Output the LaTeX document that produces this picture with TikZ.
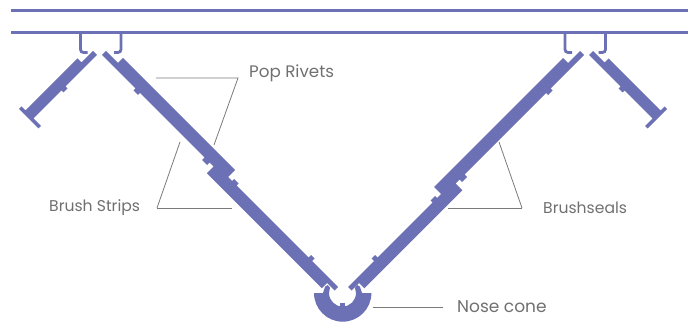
\documentclass[tikz,border=0pt]{standalone}
\usepackage{fontspec}
\setmainfont{Poppins}
\definecolor{sealblue}{HTML}{6C70B5}
\definecolor{leadgrey}{HTML}{7A7A7A}
\definecolor{textgrey}{HTML}{707070}
\tikzset{
	sealfill/.style={fill=sealblue,draw=none},
	railline/.style={draw=sealblue,line width=3pt},
	clipline/.style={draw=sealblue,line width=2.8pt,rounded corners=3pt},
	leader/.style={draw=leadgrey,line width=0.8pt},
	tag/.style={text=textgrey,font=\fontsize{#1}{#1}\selectfont,anchor=west,inner sep=0pt}
}

\begin{document}
\begin{tikzpicture}[x=1pt,y=-1pt]
	\useasboundingbox (0,0) rectangle (688,323);

	% roof rails
	\draw[railline] (11,10.5) -- (688,10.5);
	\draw[railline] (11,32.5) -- (688,32.5);

	% one side of the chute, the other is its mirror (joint sits further down there)
	\foreach \flip/\shift/\joint in {1/0/0,-1/686/34} {
		\begin{scope}[xshift=\shift pt,xscale=\flip]
			\draw[clipline] (80.5,33) -- (80.5,52.5) -- (87.5,52.5);
			\draw[clipline] (121,33) -- (121,52.5) -- (114,52.5);
			\begin{scope}[x={(.5pt,.5pt)},y={(.5pt,-.5pt)}]
				% outer panel
				\fill[sealfill] (42,144) -- (42,152) -- (-21,152) -- (-21,156) -- (-29,156) -- (-29,152)
					-- (-85,152) -- (-85,167) -- (-90,167) -- (-90,128) -- (-85,128) -- (-85,136)
					-- (19,136) -- (19,144) -- cycle;
				% long panel
				\fill[sealfill] (47,157) -- (55,157) -- (55,181) -- (65,181) -- (65,405+\joint) -- (51,405+\joint)
					-- (51,413+\joint) -- (55,413+\joint) -- (55,422+\joint) -- (51,422+\joint)
					-- (51,566) -- (56,566) -- (56,573) -- (51,573) -- (51,625) -- (44,625) -- (44,610)
					-- (33.5,610) -- (33.5,380+\joint) -- (47,380+\joint) -- (47,372+\joint) -- (42,372+\joint)
					-- (42,362+\joint) -- (47,362+\joint) -- (47,233) -- (43,233) -- (43,224) -- (47,224) -- cycle;
			\end{scope}
		\end{scope}
	}

	% nose cone
	\fill[sealfill] (314,293) arc[start angle=180,end angle=360,radius=28.7pt]
		-- (362,293) -- (360,286.7) -- (357.3,285) -- (355,287.7) -- (356,293)
		arc[start angle=360,end angle=180,radius=13.5pt]
		-- (330,287.7) -- (327.7,285) -- (325,286.7) -- (323,293) -- cycle;
	\fill[sealfill] (340.3,303) rectangle (344.5,308);

	% labels
	\node[tag=16.7] (poprivets) at (249,73) {Pop Rivets};
	\node[tag=15.6] (brushstrips) at (49,208) {Brush Strips};
	\node[tag=15.6] (brushseals) at (543,208) {Brushseals};
	\node[tag=17] (nosecone) at (457,307) {Nose cone};

	\coordinate (rivetbend) at (238,78);
	\coordinate (rivettop) at (156,78);
	\coordinate (rivetlow) at (214,145);
	\coordinate (stripbend) at (157,208);
	\coordinate (striptop) at (180,142);
	\coordinate (stripend) at (232,208);
	\coordinate (sealbend) at (522,208);
	\coordinate (sealtop) at (499,142);
	\coordinate (sealend) at (448,208);
	\coordinate (noseend) at (373,307);

	% leaders
	\draw[leader] (rivettop) -- (rivetbend) -- (rivetlow);
	\draw[leader] (stripbend) -- (stripend);
	\draw[leader] (striptop) -- (stripbend);
	\draw[leader] (sealbend) -- (sealend);
	\draw[leader] (sealtop) -- (sealbend);
	\draw[leader,shorten <=14pt] (nosecone.west) -- (noseend);
\end{tikzpicture}
\end{document}
